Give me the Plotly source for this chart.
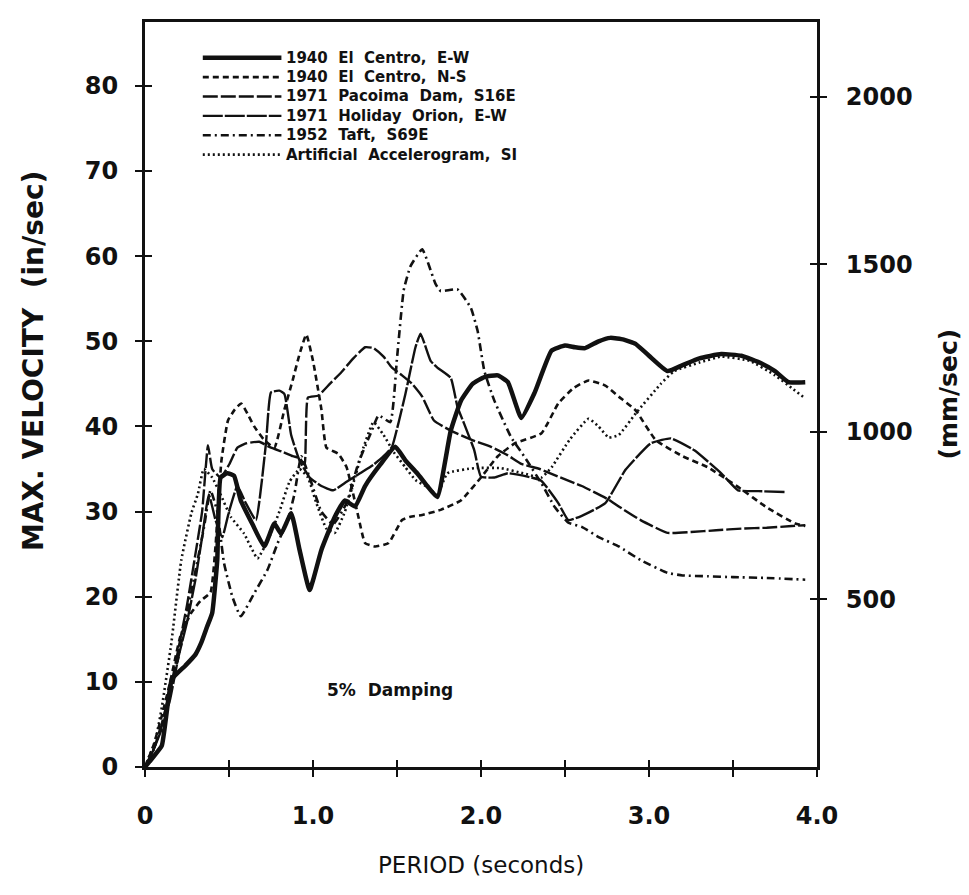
import plotly.graph_objects as go

# ---------------- data (period in s, max velocity in in/sec) ----------------
names = ["1940  El  Centro,  E-W", "1940  El  Centro,  N-S", "1971  Pacoima  Dam,  S16E",
         "1971  Holiday  Orion,  E-W", "1952  Taft,  S69E", "Artificial  Accelerogram,  SI"]

t_ew = [0, 0.05, 0.1, 0.16, 0.24, 0.3, 0.335, 0.37, 0.4, 0.43, 0.45, 0.49, 0.53, 0.57, 0.64, 0.71,
        0.77, 0.81, 0.87, 0.92, 0.98, 1.05, 1.13, 1.19, 1.25, 1.31, 1.4, 1.49, 1.55, 1.62, 1.68, 1.74,
        1.82, 1.88, 1.95, 2.02, 2.1, 2.16, 2.24, 2.32, 2.42, 2.5, 2.56, 2.62, 2.7, 2.77, 2.85, 2.92,
        3.0, 3.11, 3.2, 3.3, 3.43, 3.55, 3.67, 3.75, 3.83, 3.93]
v_ew = [0, 1.2, 2.5, 10.3, 11.9, 13.2, 14.6, 16.5, 18.1, 24.3, 34, 34.5, 34.2, 31.3, 28.5, 25.9,
        28.6, 27.4, 29.8, 25.5, 20.8, 25.5, 29.4, 31.3, 30.6, 33, 35.5, 37.6, 36, 34.5, 33, 31.7,
        39.5, 43, 45, 45.8, 46, 45.2, 41, 44, 48.9, 49.5, 49.3, 49.2, 50, 50.4, 50.2, 49.7,
        48.3, 46.5, 47.2, 48, 48.5, 48.3, 47.4, 46.5, 45.2, 45.2]

t_ns = [0, 0.05, 0.1, 0.15, 0.21, 0.275, 0.33, 0.39, 0.42, 0.455, 0.494, 0.535, 0.573, 0.61, 0.65,
        0.71, 0.77, 0.83, 0.88, 0.92, 0.96, 1.0, 1.05, 1.08, 1.15, 1.2, 1.27, 1.31, 1.37, 1.45, 1.53,
        1.58, 1.65, 1.76, 1.88, 2.0, 2.1, 2.2, 2.36, 2.46, 2.55, 2.64, 2.74, 2.82, 2.92, 3.04, 3.2,
        3.35, 3.53, 3.7, 3.87, 3.93]
v_ns = [0, 2.5, 6, 10, 15.3, 18.1, 19.5, 20.5, 26, 36, 40.7, 42, 42.7, 41.5, 40,
        38.4, 37.5, 42, 45.5, 48.5, 50.8, 47.7, 42, 37.5, 36.8, 35.2, 29.4, 26.3, 25.9, 26.3, 29,
        29.4, 29.6, 30.2, 31.3, 34, 36.5, 38, 39.2, 42.7, 44.5, 45.4, 44.8, 43.5, 41.9, 38.4, 36.5,
        35.2, 32.9, 30.5, 28.6, 28.3]

t_pac = [0, 0.05, 0.1, 0.15, 0.2, 0.25, 0.3, 0.34, 0.375, 0.4, 0.45, 0.5, 0.55, 0.6, 0.68, 0.75,
         0.82, 0.88, 0.92, 0.95, 0.97, 1.03, 1.1, 1.17, 1.24, 1.31, 1.36, 1.42, 1.47, 1.53, 1.59,
         1.65, 1.72, 1.82, 1.96, 2.06, 2.16, 2.24, 2.35, 2.46, 2.6, 2.76, 2.82, 2.95, 3.11, 3.25,
         3.4, 3.55, 3.7, 3.85, 3.93]
v_pac = [0, 2, 5, 9, 14, 19, 25, 30, 37.8, 35, 34, 35.5, 37.5, 38, 38.2, 37.5,
         37, 36.5, 36.3, 35.5, 43.4, 43.6, 45, 46.4, 48, 49.3, 49.2, 48.2, 46.9, 46, 45,
         43.5, 40.7, 39.5, 38.3, 37.6, 36.6, 35.6, 35, 34.1, 33, 31.4, 30.6, 29, 27.5, 27.6,
         27.8, 28, 28.1, 28.3, 28.4]

t_hol = [0, 0.05, 0.1, 0.15, 0.2, 0.25, 0.3, 0.34, 0.38, 0.42, 0.46, 0.5, 0.55, 0.6, 0.66, 0.72,
         0.75, 0.8, 0.83, 0.87, 0.92, 0.98, 1.05, 1.12, 1.2, 1.28, 1.36, 1.42, 1.47, 1.51, 1.55,
         1.61, 1.64, 1.7, 1.74, 1.82, 1.86, 1.9, 1.96, 2.0, 2.08, 2.16, 2.3, 2.36, 2.46, 2.52, 2.6,
         2.74, 2.86, 3.01, 3.13, 3.27, 3.43, 3.53, 3.65, 3.81]
v_hol = [0, 2, 4.5, 8, 13, 17, 22, 27, 32, 29, 27, 30, 33, 31, 29, 38,
         44, 44.2, 43.8, 39, 36, 34, 33, 32.5, 33.5, 34.5, 35.5, 36.5, 37.6, 40.5, 43.8,
         49.3, 50.9, 47.7, 46.9, 45.7, 42.3, 40.3, 37.2, 34.1, 34, 34.5, 34, 33.6, 31, 29, 29.5,
         31, 34.9, 38, 38.6, 37.2, 34.5, 32.5, 32.4, 32.3]

t_taft = [0, 0.05, 0.1, 0.15, 0.2, 0.25, 0.3, 0.35, 0.39, 0.43, 0.47, 0.52, 0.57, 0.65, 0.73,
          0.79, 0.85, 0.89, 0.93, 0.98, 1.05, 1.12, 1.2, 1.27, 1.35, 1.39, 1.46, 1.5, 1.54, 1.58,
          1.65, 1.73, 1.76, 1.86, 1.94, 1.98, 2.02, 2.08, 2.18, 2.26, 2.36, 2.44, 2.52, 2.6, 2.7,
          2.82, 2.95, 3.11, 3.2, 3.35, 3.5, 3.7, 3.93]
v_taft = [0, 2, 5, 9, 13, 18, 23, 28, 32.5, 30, 24, 20, 17.7, 20.4, 23.2,
          26.3, 29, 32.1, 36.5, 34, 30, 28.5, 31, 35.7, 39.5, 41.3, 40.5, 48, 56, 58.8,
          60.8, 56.7, 55.9, 56.1, 53.9, 51.2, 46.5, 43, 38.7, 36.4, 33.3, 30.5, 28.7, 28.2, 27,
          25.9, 24.3, 22.8, 22.5, 22.4, 22.3, 22.2, 22]

t_art = [0, 0.03, 0.06, 0.1, 0.157, 0.216, 0.276, 0.315, 0.35, 0.4, 0.45, 0.51, 0.59, 0.67, 0.74,
         0.8, 0.86, 0.92, 0.97, 1.02, 1.08, 1.13, 1.19, 1.25, 1.3, 1.36, 1.42, 1.48, 1.55, 1.61,
         1.68, 1.74, 1.8, 1.96, 2.12, 2.25, 2.36, 2.42, 2.53, 2.64, 2.7, 2.76, 2.82, 2.92, 3.07,
         3.15, 3.3, 3.43, 3.6, 3.75, 3.85, 3.93]
v_art = [0, 1.5, 2.9, 7, 14.6, 24.3, 29.8, 32.1, 35, 34, 32, 29.4, 27.4, 24.5, 27,
         30, 33.5, 35, 34, 31, 28, 27.5, 30, 34, 37.5, 40.5, 39, 37, 35.2, 33.7,
         32.9, 32, 34.5, 35.1, 35.1, 34.5, 34, 35.2, 38.5, 40.9, 40, 38.7, 39, 41.5, 45,
         46.5, 47.5, 48.2, 47.7, 46, 44.5, 43.3]

x_ticks = [0, 0.5, 1, 1.5, 2, 2.5, 3, 3.5, 4]
x_ticktext = ["0", "", "1.0", "", "2.0", "", "3.0", "", "4.0"]
y_ticks = [0, 10, 20, 30, 40, 50, 60, 70, 80]
mm_ticks = [500, 1000, 1500, 2000]
IN_TO_MM = 25.4

# ---------------- styling ----------------
dashes = ["solid", "6px,4px", "15px,3px", "20px,2px", "8px,4px,2px,4px", "2px,3px"]
widths = [4.5, 2.6, 2.4, 2.4, 2.6, 2.6]
ts = [t_ew, t_ns, t_pac, t_hol, t_taft, t_art]
vs = [v_ew, v_ns, v_pac, v_hol, v_taft, v_art]

YMAX = 87.5
INK = "#111111"
TICKFONT = dict(family="DejaVu Sans", size=24, color=INK, weight="bold")

fig = go.Figure()
for name, t, v, d, w in zip(names, ts, vs, dashes, widths):
    fig.add_trace(go.Scatter(x=t, y=v, name=name, mode="lines",
                             line=dict(color=INK, width=w, dash=d, shape="spline", smoothing=0.4),
                             showlegend=False, hoverinfo="skip"))

# invisible companions so that the secondary (mm/sec) axis and the crossing-tick axes get drawn
fig.add_trace(go.Scatter(x=t_ew, y=[v * IN_TO_MM for v in v_ew], yaxis="y2", mode="lines",
                         opacity=0, showlegend=False, hoverinfo="skip"))
fig.add_trace(go.Scatter(x=t_ew, y=[v * IN_TO_MM for v in v_ew], yaxis="y4", mode="lines",
                         opacity=0, showlegend=False, hoverinfo="skip"))
fig.add_trace(go.Scatter(x=t_ew, y=v_ew, yaxis="y3", mode="lines",
                         opacity=0, showlegend=False, hoverinfo="skip"))
fig.add_trace(go.Scatter(x=t_ew, y=v_ew, xaxis="x2", mode="lines",
                         opacity=0, showlegend=False, hoverinfo="skip"))

# hand-drawn style legend (line samples + labels)
leg_y = [0.952, 0.926, 0.900, 0.874, 0.848, 0.822]
for name, d, w, yy in zip(names, dashes, widths, leg_y):
    fig.add_shape(type="line", xref="paper", yref="paper", x0=0.086, x1=0.203, y0=yy, y1=yy,
                  line=dict(color=INK, width=w, dash=d))
    fig.add_annotation(xref="paper", yref="paper", x=0.208, y=yy, text=name, showarrow=False,
                       xanchor="left", yanchor="middle", borderpad=0,
                       font=dict(family="DejaVu Sans", size=15, color=INK, weight="bold"))

fig.add_annotation(x=1.07, y=9.0, text="5%  Damping", showarrow=False, xanchor="left",
                   yanchor="middle", font=dict(family="DejaVu Sans", size=17, color=INK, weight="bold"))

# axis titles
fig.add_annotation(xref="paper", yref="paper", x=-0.165, y=0.545, text="MAX. VELOCITY  (in/sec)",
                   textangle=-90, showarrow=False, xanchor="center", yanchor="middle",
                   font=dict(family="DejaVu Sans", size=28, color=INK, weight="bold"))
fig.add_annotation(xref="paper", yref="paper", x=1.195, y=0.50, text="(mm/sec)",
                   textangle=-90, showarrow=False, xanchor="center", yanchor="middle",
                   font=dict(family="DejaVu Sans", size=25, color=INK, weight="bold"))
fig.add_annotation(xref="paper", yref="paper", x=0.5, y=-0.132, text="PERIOD (seconds)",
                   showarrow=False, xanchor="center", yanchor="middle",
                   font=dict(family="DejaVu Sans", size=23, color=INK))

axis_common = dict(showgrid=False, zeroline=False)
fig.update_layout(
    width=969, height=895, margin=dict(l=137, r=160, t=11, b=136),
    paper_bgcolor="white", plot_bgcolor="white", showlegend=False,
    xaxis=dict(range=[0, 4], tickvals=x_ticks, ticktext=x_ticktext, ticks="outside", ticklen=7,
               tickwidth=2, tickcolor=INK, showline=True, linewidth=3, linecolor=INK, mirror=True,
               tickfont=TICKFONT, ticklabelstandoff=18, **axis_common),
    xaxis2=dict(range=[0, 4], overlaying="x", anchor="y", side="bottom", tickvals=x_ticks,
                ticks="inside", ticklen=7, tickwidth=2, tickcolor=INK, showticklabels=False,
                showline=False, **axis_common),
    yaxis=dict(range=[0, YMAX], tickvals=y_ticks, ticks="outside", ticklen=7, tickwidth=2,
               tickcolor=INK, showline=True, linewidth=3, linecolor=INK, mirror=True,
               tickfont=TICKFONT, ticklabelstandoff=12, **axis_common),
    yaxis3=dict(range=[0, YMAX], overlaying="y", anchor="x", side="left", tickvals=y_ticks,
                ticks="inside", ticklen=7, tickwidth=2, tickcolor=INK, showticklabels=False,
                showline=False, **axis_common),
    yaxis2=dict(range=[0, YMAX * IN_TO_MM], overlaying="y", anchor="x", side="right",
                tickvals=mm_ticks, ticktext=[str(m) for m in mm_ticks], ticks="outside",
                ticklen=7, tickwidth=2, tickcolor=INK, showline=True, linewidth=3, linecolor=INK,
                tickfont=TICKFONT, ticklabelstandoff=14, **axis_common),
    yaxis4=dict(range=[0, YMAX * IN_TO_MM], overlaying="y", anchor="x", side="right",
                tickvals=mm_ticks, ticks="inside", ticklen=7, tickwidth=2, tickcolor=INK,
                showticklabels=False, showline=False, **axis_common),
)

fig.write_html("out.html")
